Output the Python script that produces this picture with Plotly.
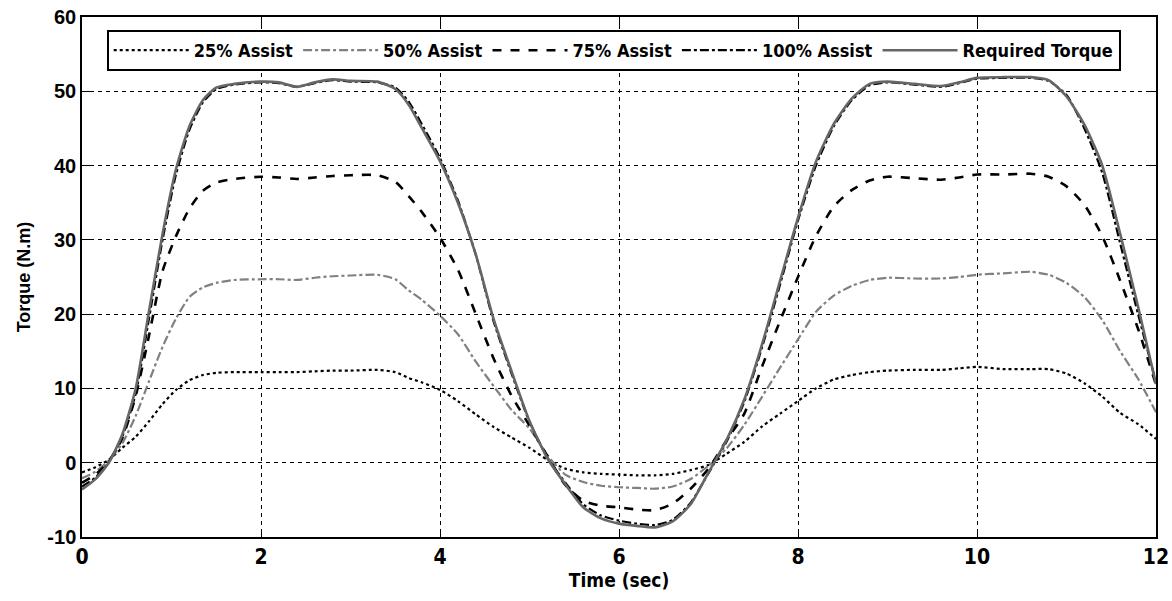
import plotly.graph_objects as go

time_s = [0, 0.15, 0.3, 0.45, 0.6, 0.75, 0.9, 1.05, 1.2, 1.35, 1.5, 1.7, 2.0, 2.2, 2.4, 2.6, 2.8, 3.0, 3.3, 3.5,
          3.65, 3.8, 4.0, 4.2, 4.4, 4.6, 4.8, 5.0, 5.2, 5.4, 5.6, 5.8, 6.0, 6.2, 6.4, 6.6, 6.8, 7.0, 7.2, 7.4,
          7.6, 7.8, 8.0, 8.2, 8.4, 8.6, 8.8, 9.0, 9.3, 9.6, 9.8, 10.0, 10.3, 10.6, 10.8, 11.0, 11.2, 11.4, 11.6, 11.8, 12.0]

required = [-3.6, -2.2, 0.0, 3.8, 10.0, 20.5, 30.8, 39.5, 45.3, 48.8, 50.5, 51.0, 51.3, 51.2, 50.6, 51.2, 51.6, 51.4, 51.3, 50.3,
            48.2, 45.0, 40.6, 35.0, 28.0, 19.3, 12.3, 5.6, 0.6, -2.9, -6.0, -7.5, -8.2, -8.5, -8.7, -7.9, -5.6, -1.3, 3.0, 8.5,
            16.0, 24.5, 33.0, 40.5, 45.6, 49.0, 51.0, 51.3, 51.0, 50.7, 51.2, 51.8, 51.9, 51.9, 51.5, 49.3, 45.5, 40.0, 30.8, 21.0, 10.6]

assist_100 = [-3.2, -2.0, 0.1, 3.5, 9.3, 19.5, 30.0, 38.8, 44.8, 48.5, 50.3, 50.9, 51.2, 51.1, 50.6, 51.1, 51.5, 51.3, 51.2, 50.5,
              48.6, 45.5, 41.0, 35.3, 28.0, 19.0, 12.0, 5.5, 0.7, -2.7, -5.6, -7.1, -7.8, -8.2, -8.4, -7.7, -5.4, -1.4, 2.8, 8.2,
              15.6, 24.0, 32.6, 40.0, 45.3, 48.8, 50.8, 51.2, 50.9, 50.6, 51.1, 51.7, 51.8, 51.8, 51.4, 49.5, 45.0, 39.0, 29.5, 20.0, 10.8]

assist_75 = [-2.7, -1.6, 0.2, 3.3, 9.0, 17.2, 25.8, 30.5, 34.2, 36.6, 37.7, 38.2, 38.5, 38.4, 38.2, 38.4, 38.6, 38.7, 38.7, 37.8,
             35.9, 33.7, 30.3, 26.0, 20.0, 14.0, 9.0, 5.0, 0.9, -3.0, -5.1, -5.8, -6.0, -6.3, -6.4, -5.5, -3.5, -0.8, 3.0, 6.6,
             13.0, 19.1, 25.0, 30.5, 34.5, 36.7, 38.0, 38.5, 38.3, 38.1, 38.4, 38.8, 38.8, 38.9, 38.5, 37.2, 34.7, 30.5, 24.5, 18.0, 10.5]

assist_50 = [-2.1, -1.2, 0.3, 2.6, 6.3, 11.0, 15.6, 19.4, 22.3, 23.6, 24.2, 24.6, 24.7, 24.7, 24.6, 24.9, 25.1, 25.2, 25.3, 24.7,
             23.2, 21.9, 19.8, 17.3, 13.6, 10.3, 7.1, 4.6, 1.0, -1.6, -2.6, -3.1, -3.3, -3.4, -3.5, -3.2, -2.2, -0.4, 1.9, 5.1,
             8.9, 12.8, 16.6, 20.3, 22.5, 23.8, 24.6, 24.9, 24.8, 24.8, 25.0, 25.3, 25.5, 25.7, 25.3, 24.2, 22.3, 19.2, 15.0, 11.3, 6.8]

assist_25 = [-1.3, -0.6, 0.4, 2.0, 3.5, 5.6, 7.9, 9.8, 11.1, 11.8, 12.1, 12.2, 12.2, 12.2, 12.2, 12.3, 12.4, 12.4, 12.5, 12.2,
             11.4, 10.8, 9.8, 8.3, 6.5, 4.8, 3.4, 2.0, 0.4, -0.8, -1.3, -1.5, -1.6, -1.7, -1.7, -1.5, -1.0, -0.3, 1.2, 2.8,
             4.9, 6.6, 8.3, 10.0, 11.2, 11.8, 12.2, 12.4, 12.5, 12.5, 12.7, 12.9, 12.6, 12.6, 12.6, 12.0, 10.7, 8.9, 6.7, 5.2, 3.2]

x_ticks = [0, 2, 4, 6, 8, 10, 12]
y_ticks = [-10, 0, 10, 20, 30, 40, 50, 60]

NARROW = "Liberation Sans Narrow, DejaVu Sans Condensed, Arial Narrow, sans-serif"
WIDE = "Liberation Sans, Arial, sans-serif"

series = [
    ("25% Assist", assist_25, "#000000", "dot", 2.2),
    ("50% Assist", assist_50, "#808080", "dashdot", 2.2),
    ("75% Assist", assist_75, "#000000", "dash", 2.6),
    ("100% Assist", assist_100, "#000000", "dashdot", 2.2),
    ("Required Torque", required, "#666666", "solid", 2.6),
]

fig = go.Figure()
for name, vals, col, dash, w in series:
    fig.add_trace(go.Scatter(x=time_s, y=vals, mode="lines", name=name,
                             line=dict(color=col, dash=dash, width=w, shape="spline", smoothing=0.6)))

axis_common = dict(showline=True, linecolor="black", linewidth=1.5, mirror="ticks",
                   ticks="inside", ticklen=8, tickcolor="black", tickwidth=1.2,
                   showgrid=True, gridcolor="black", gridwidth=1, griddash="4px,4px",
                   zeroline=False, automargin=False)

fig.update_layout(
    width=1172, height=601,
    margin=dict(l=82, r=16, t=17, b=64),
    paper_bgcolor="white", plot_bgcolor="white",
    showlegend=True,
    legend=dict(orientation="h", x=0.023, y=0.975, xanchor="left", yanchor="top",
                bgcolor="white", bordercolor="black", borderwidth=2,
                font=dict(family=NARROW, size=18, color="black", weight="bold"),
                itemwidth=75, tracegroupgap=0),
    xaxis=dict(range=[0, 12], tickvals=x_ticks, ticktext=[str(v) for v in x_ticks],
               tickfont=dict(family=NARROW, size=21, color="black", weight="bold"),
               title=dict(text="Time (sec)", font=dict(family=NARROW, size=19, color="black", weight="bold"),
                          standoff=6),
               **axis_common),
    yaxis=dict(range=[-10, 60], tickvals=y_ticks, ticktext=[str(v) for v in y_ticks],
               tickfont=dict(family=WIDE, size=20, color="black", weight="bold"),
               title=dict(text="Torque (N.m)", font=dict(family=WIDE, size=18, color="black", weight="bold"),
                          standoff=12),
               **axis_common),
)

fig.write_html("out.html", config={"displayModeBar": False},
               post_script="document.body.style.margin='0';")
